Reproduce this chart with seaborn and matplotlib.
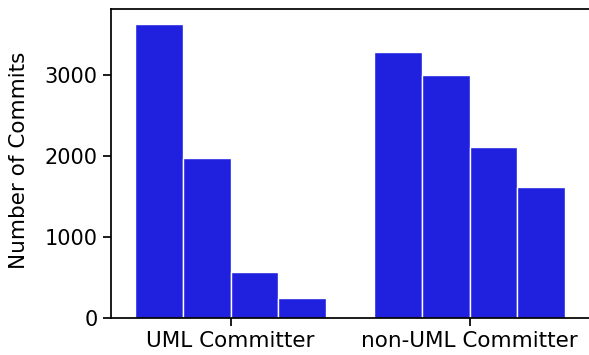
import matplotlib
matplotlib.use("Agg")
import matplotlib.pyplot as plt
import seaborn as sns
import pandas as pd

# Commit counts per committer group, four bins each
groups = ["UML Committer", "non-UML Committer"]
bins = ["Q1", "Q2", "Q3", "Q4"]
uml_commits = [3630, 1975, 565, 245]
non_uml_commits = [3280, 3000, 2115, 1610]

rows = []
for g, vals in zip(groups, [uml_commits, non_uml_commits]):
    for b, v in zip(bins, vals):
        rows.append({"group": g, "bin": b, "commits": v})
df = pd.DataFrame(rows)

sns.set_theme(style="ticks")
plt.rcParams["font.family"] = ["DejaVu Sans"]
plt.rcParams["text.color"] = "black"
plt.rcParams["axes.labelcolor"] = "black"

fig = plt.figure(figsize=(5.89, 3.55), dpi=100)
ax = fig.add_axes([111 / 589, 37 / 355, 1 - 111 / 589, (318 - 9) / 355])

sns.barplot(data=df, x="group", y="commits", hue="bin",
            palette=["blue"] * len(bins), legend=False, ax=ax,
            edgecolor="white", linewidth=1)

ax.set_xlim(-0.5, 1.5)
ax.set_xlabel("")
ax.set_ylabel("Number of Commits", fontsize=15.5)
ax.yaxis.set_label_coords(-0.172, 0.51)
ax.set_yticks([0, 1000, 2000, 3000])
ax.tick_params(axis="y", labelsize=15, colors="black")
ax.tick_params(axis="x", labelsize=15.5, colors="black")
for side in ["left", "bottom", "top"]:
    ax.spines[side].set_color("black")
ax.spines["right"].set_visible(False)

fig.savefig("out.png", dpi=100)
